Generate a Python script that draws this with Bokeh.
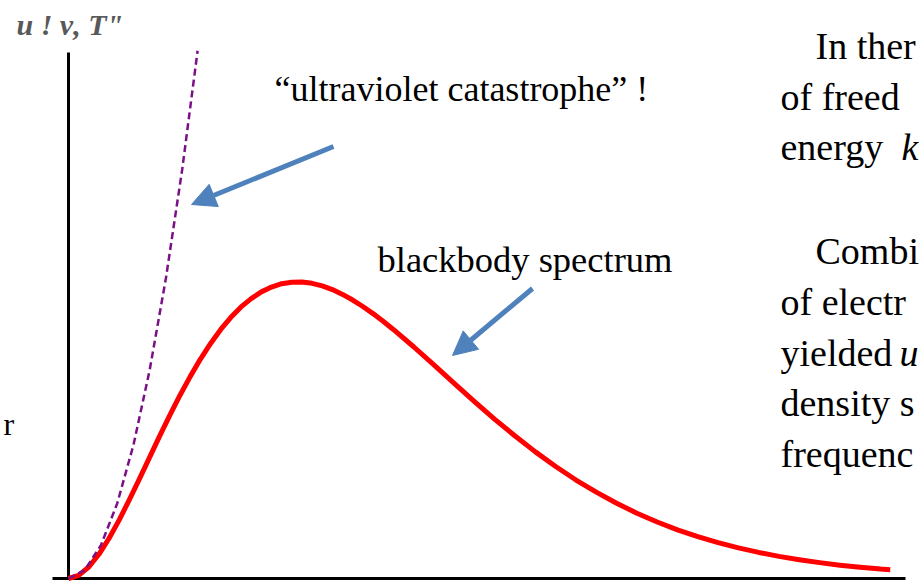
from bokeh.plotting import figure
from bokeh.models import Range1d, Arrow, NormalHead, Label
from bokeh.embed import file_html
from bokeh.resources import INLINE

# ---- data ----
freq = [0, 0.125, 0.25, 0.375, 0.5, 0.625, 0.75, 0.875, 1.0, 1.125, 1.25, 1.375, 1.5,
        1.625, 1.75, 1.875, 2.0, 2.125, 2.25, 2.375, 2.5, 2.625, 2.75, 2.875, 3.0,
        3.125, 3.25, 3.375, 3.5, 3.625, 3.75, 3.875, 4.0, 4.25, 4.5, 4.75, 5.0, 5.25,
        5.5, 5.75, 6.0, 6.25, 6.5, 6.75, 7.0, 7.25, 7.5, 7.75, 8.0, 8.25, 8.5, 8.75,
        9.0, 9.25, 9.5, 9.75, 10.0, 10.12]
blackbody = [0, 0.015, 0.055, 0.116, 0.193, 0.281, 0.378, 0.479, 0.582, 0.685, 0.784,
             0.880, 0.969, 1.052, 1.127, 1.194, 1.252, 1.302, 1.342, 1.374, 1.397,
             1.413, 1.420, 1.421, 1.415, 1.403, 1.385, 1.362, 1.335, 1.304, 1.270,
             1.233, 1.194, 1.111, 1.024, 0.935, 0.848, 0.763, 0.683, 0.607, 0.537,
             0.472, 0.414, 0.361, 0.313, 0.271, 0.233, 0.201, 0.172, 0.147, 0.125,
             0.106, 0.090, 0.076, 0.064, 0.054, 0.045, 0.042]
rj_freq = [0, 0.2, 0.4, 0.6, 0.8, 1.0, 1.2, 1.4, 1.59]
rayleigh_jeans = [0, 0.04, 0.16, 0.36, 0.64, 1.0, 1.44, 1.96, 2.53]

y_label = "u ! \u03bd, T\""
uv_label = "\u201cultraviolet catastrophe\u201d !"
bb_label = "blackbody spectrum"
side_lines = ["In ther", "of  freed", "energy", "Combi", "of electr", "yielded",
              "density s", "frequenc"]

# ---- geometry (page pixels -> data units) ----
W, H = 919, 587
X0_PAGE, SX = 68.0, 81.2      # page px of x=0, px per unit
Y0_PAGE, SY = 578.0, 208.6    # page px of y=0, px per unit


def dx(px):
    return (px - X0_PAGE) / SX


def dy(py):
    return (Y0_PAGE - py) / SY


p = figure(width=W, height=H, output_backend="svg", toolbar_location=None,
           x_range=Range1d(dx(0), dx(W)), y_range=Range1d(dy(H), dy(0)),
           min_border=0, min_border_left=0, min_border_right=0,
           min_border_top=0, min_border_bottom=0)
p.axis.visible = False
p.grid.visible = False
p.outline_line_color = None
p.background_fill_color = "white"
p.border_fill_color = "white"

# axis lines
p.segment(x0=[dx(52)], y0=[0], x1=[dx(905)], y1=[0], line_color="black", line_width=3)
p.segment(x0=[0], y0=[0], x1=[0], y1=[dy(52)], line_color="black", line_width=3)

# curves
p.line(freq, blackbody, line_color="#FF0000", line_width=5, line_join="round")
p.line(rj_freq, rayleigh_jeans, line_color="#7A0F86", line_width=2.5, line_dash="7 4")

blue = "#4F81BD"
for (tx, ty, hx, hy) in [(333, 146, 191, 204), (532, 288, 452, 355)]:
    p.add_layout(Arrow(x_start=dx(tx), y_start=dy(ty), x_end=dx(hx), y_end=dy(hy),
                       line_color=blue, line_width=5,
                       end=NormalHead(size=24, fill_color=blue, line_color=blue,
                                      line_width=1)))

serif = "Liberation Serif"


def label(text, px, py, size, style="normal", color="black"):
    p.add_layout(Label(x=dx(px), y=dy(py), text=text, text_font=serif,
                       text_font_size=f"{size}px", text_font_style=style,
                       text_color=color, text_baseline="alphabetic",
                       text_align="left"))


label(y_label, 16, 24, 30, "bold italic", "#595959")
label(uv_label, 274, 88, 36)
label(bb_label, 377, 259, 36.5)

side_x = [815, 780, 780, 815, 780, 780, 780, 780]
side_y = [45, 96, 146, 250, 301, 352, 402, 453]
for t, x, y in zip(side_lines, side_x, side_y):
    label(t, x, y, 38)
label("k", 901, 146, 38, "italic")
label("u", 899, 352, 38, "italic")
label("r", 3, 423, 32)

open("out.html", "w").write(file_html(p, INLINE))
